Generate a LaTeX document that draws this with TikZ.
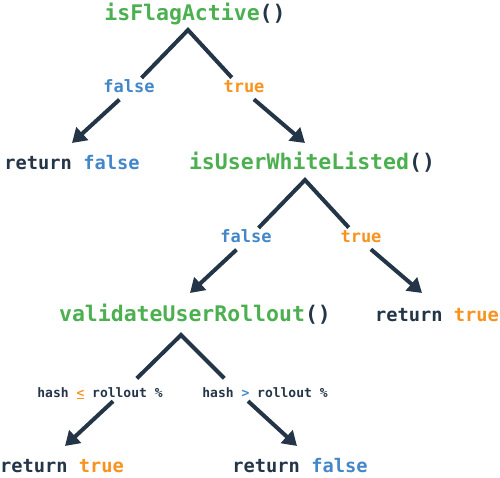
\documentclass[tikz,border=0pt]{standalone}
\usepackage{fontspec}
\setmonofont{DejaVu Sans Mono}
\usetikzlibrary{calc,arrows.meta}
\definecolor{fgreen}{HTML}{4CAF50}
\definecolor{fblue}{HTML}{4487C9}
\definecolor{forange}{HTML}{F7931E}
\definecolor{navy}{HTML}{243548}
\begin{document}
\begin{tikzpicture}[x=1pt,y=-1pt,
  fn/.style={anchor=base, inner sep=0pt, font=\ttfamily\bfseries\fontsize{21.5}{24}\selectfont, text=navy},
  ret/.style={anchor=base, inner sep=0pt, font=\ttfamily\bfseries\fontsize{18.7}{22}\selectfont, text=navy},
  lbl/.style={anchor=base, inner sep=0pt, font=\ttfamily\bfseries\fontsize{17}{20}\selectfont},
  cond/.style={anchor=base, inner sep=0pt, font=\ttfamily\bfseries\fontsize{13}{16}\selectfont, text=navy},
  peak/.style={draw=navy, line width=4pt, line join=miter, shorten <=18pt, shorten >=18pt},
  arr/.style={draw=navy, line width=4pt, -{Triangle[length=14pt,width=17pt]}, shorten <=13pt},
]
\useasboundingbox (0,0) rectangle (500,478);

\node[fn] (fa) at (195,21) {\textcolor{fgreen}{isFlagActive}()};
\coordinate (a1) at ($(fa.base)+(-7,9)$);
\node[lbl, text=fblue] (l1) at (129,93) {false};
\node[lbl, text=forange] (l2) at (244,93) {true};
\node[ret] (c1) at (72,170) {return \textcolor{fblue}{false}};
\node[fn] (c2) at (312,170) {\textcolor{fgreen}{isUserWhiteListed}()};
\coordinate (a2) at ($(c2.base)+(-7,10)$);
\node[lbl, text=fblue] (l3) at (246,243) {false};
\node[lbl, text=forange] (l4) at (361,243) {true};
\node[fn] (c3) at (195,321) {\textcolor{fgreen}{validateUserRollout}()};
\node[ret] (c4) at (437,321) {return \textcolor{forange}{true}};
\coordinate (a3) at ($(c3.base)+(-14,14)$);
\node[cond] (l5) at (100,397) {hash \textcolor{forange}{\underline{<}} rollout \%};
\node[cond] (l6) at (265,397) {hash \textcolor{fblue}{>} rollout \%};
\node[ret] (c5) at (62,472) {return \textcolor{forange}{true}};
\node[ret] (c6) at (300,472) {return \textcolor{fblue}{false}};
\coordinate (h5) at ($(l5.base)+(24,-6)$);
\coordinate (h6) at ($(l6.base)+(-28,-6)$);

\draw[peak] (l1.mid) -- (a1) -- (l2.mid);
\draw[arr] (l1.mid) -- ($(c1.base)+(0,-27)$);
\draw[arr] (l2.mid) -- ($(c2.base)+(-7,-27)$);

\draw[peak] (l3.mid) -- (a2) -- (l4.mid);
\draw[arr] (l3.mid) -- ($(c3.base)+(-5,-28)$);
\draw[arr] (l4.mid) -- ($(c4.base)+(-15,-28)$);

\draw[peak] (h5) -- (a3) -- (h6);
\draw[arr, shorten <=15pt] (h5) -- ($(c5.base)+(3,-26)$);
\draw[arr, shorten <=15pt] (h6) -- ($(c6.base)+(-3,-26)$);
\end{tikzpicture}
\end{document}
